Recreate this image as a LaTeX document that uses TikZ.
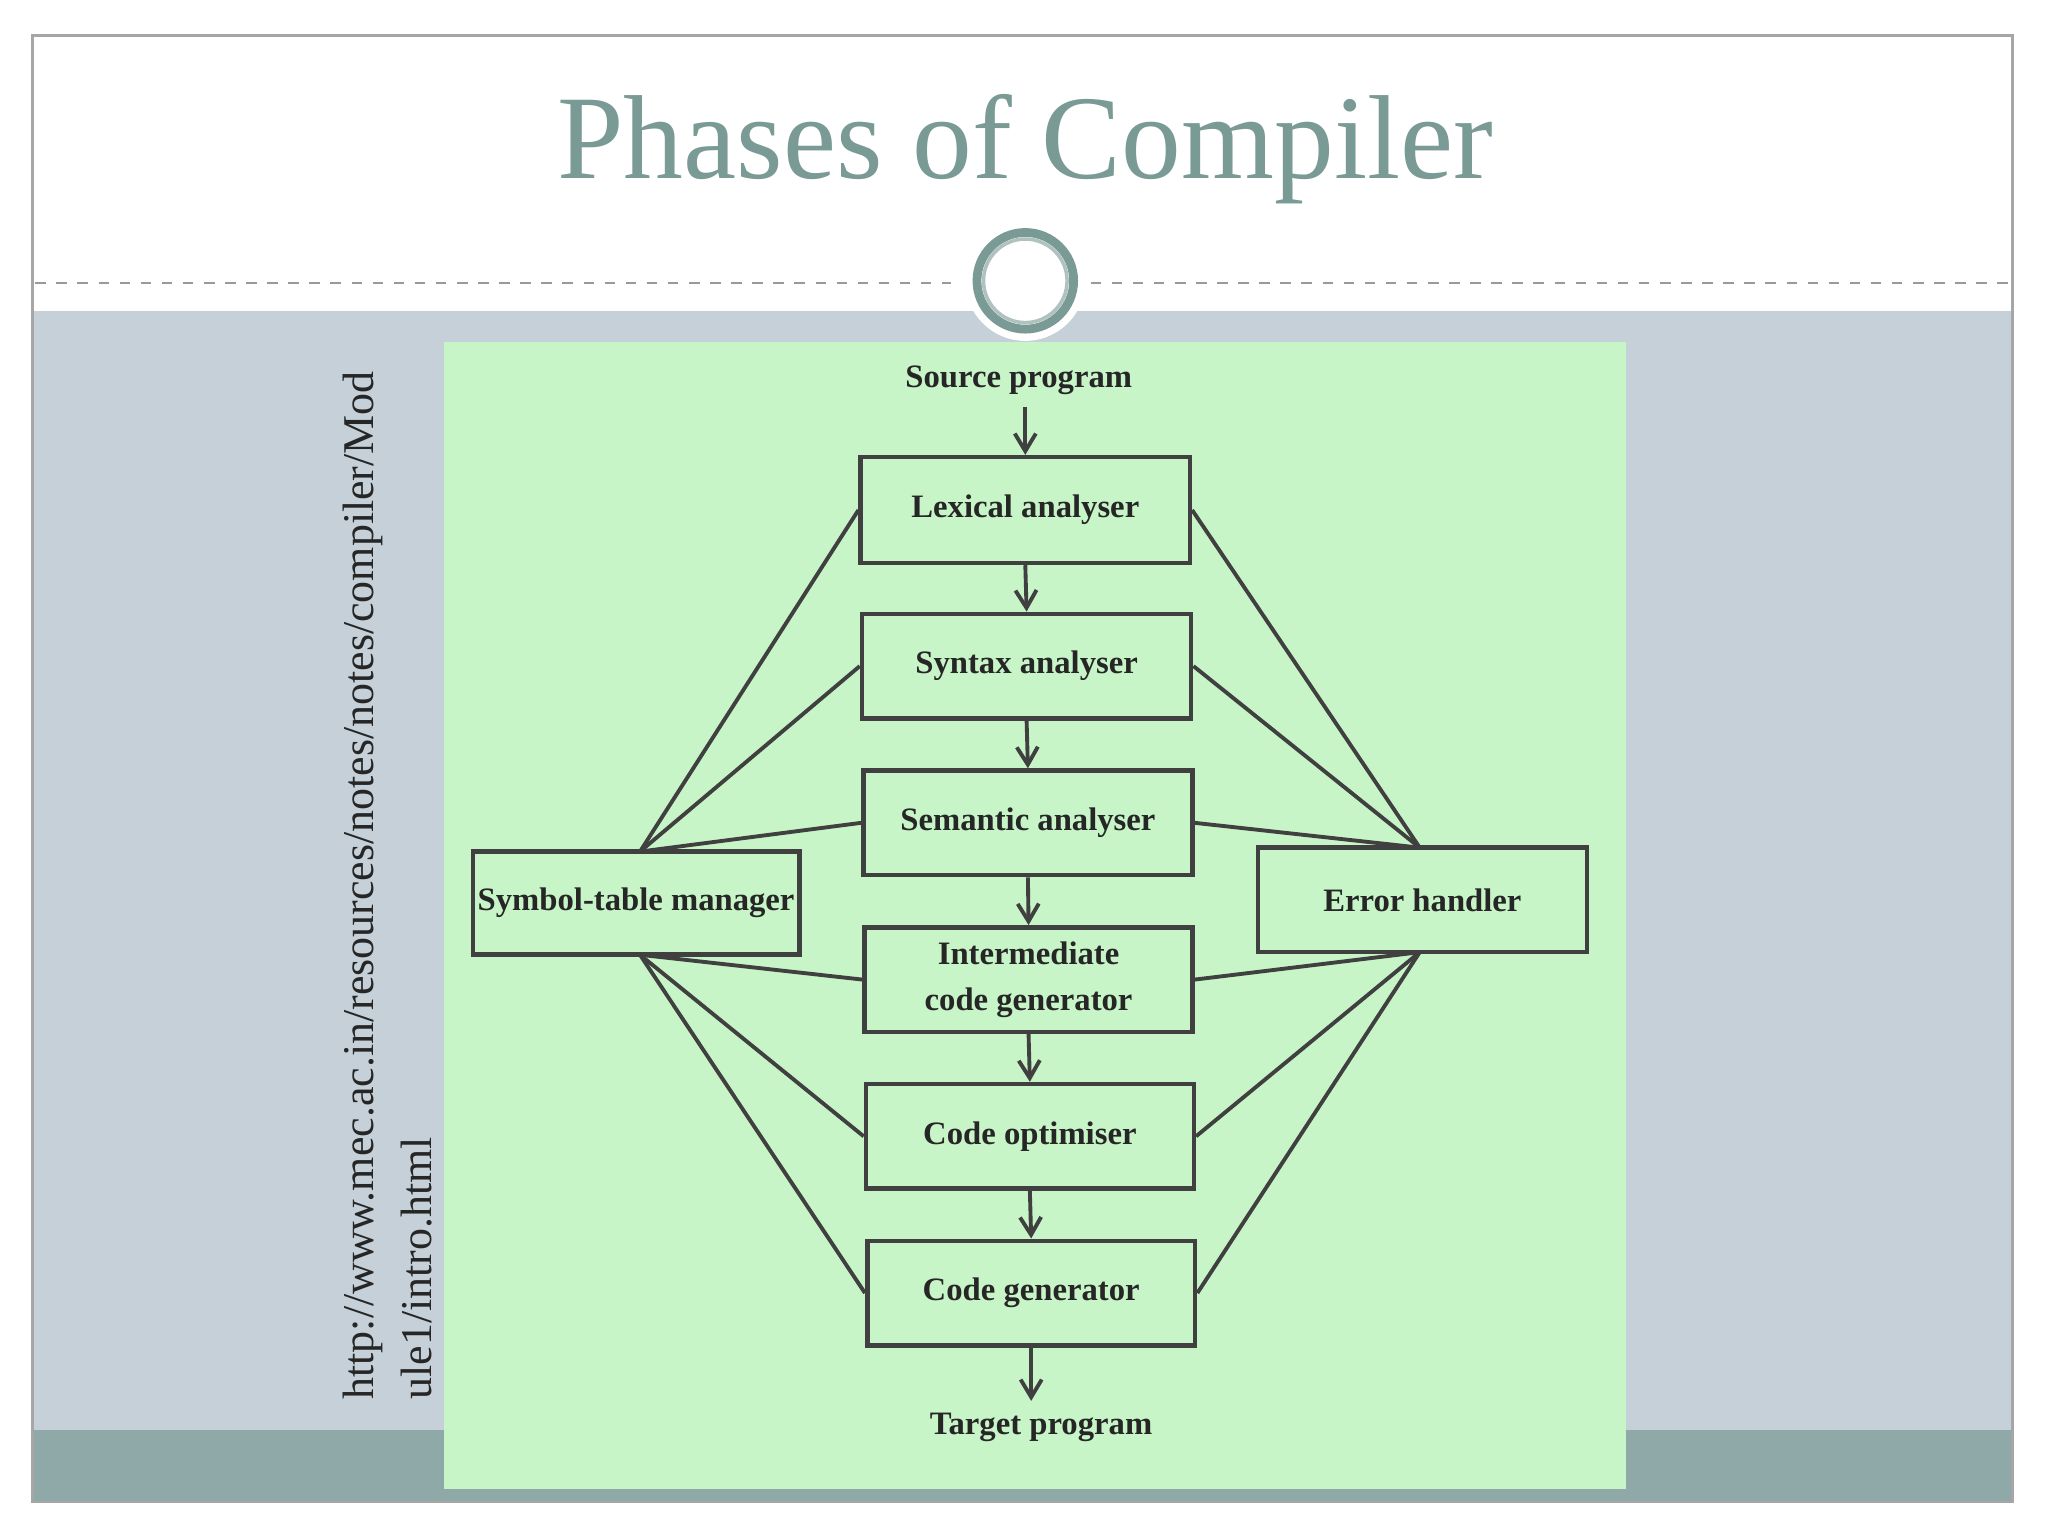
\documentclass[tikz,border=0pt]{standalone}
\usepackage{fontspec}
\setmainfont{Liberation Serif}
\usetikzlibrary{fit,arrows.meta}
\definecolor{titlec}{HTML}{7A9A95}
\definecolor{bandc}{HTML}{C5D0D8}
\definecolor{footc}{HTML}{8FA8A8}
\definecolor{greenc}{HTML}{C8F5C8}
\definecolor{linec}{HTML}{404040}
\tikzset{
 box/.style={draw=linec, line width=1.3pt, inner sep=0pt},
 lbl/.style={font=\bfseries\fontsize{9.3}{11}\selectfont, align=center, text=black!85},
 con/.style={draw=linec, line width=1.1pt},
 arr/.style={con, -{Straight Barb[length=5pt,width=6pt]}},
}
\begin{document}
\begin{tikzpicture}[x=0.013061cm,y=-0.013061cm]
\useasboundingbox (0,0) rectangle (1568,1176);
\fill[white] (0,0) rectangle (1568,1176);
\fill[bandc] (25,238) rectangle (1541,1095);
\fill[footc] (25,1095) rectangle (1541,1150);
\draw[gray!70, line width=0.8pt] (25,27) rectangle (1541,1150);
\draw[gray!80, dashed, line width=0.6pt] (27,217) -- (728,217);
\draw[gray!80, dashed, line width=0.6pt] (835,217) -- (1540,217);
\fill[white] (785,215) circle (46);
\draw[titlec, line width=2.5pt] (785,215) circle (37);
\draw[titlec!60, line width=1pt] (785,215) circle (32);
\node[text=titlec, font=\fontsize{34}{40}\selectfont] (title) at (785,114) {Phases of Compiler};
\fill[greenc] (340,262) rectangle (1245,1140);
\node[rotate=90, anchor=south west, inner sep=0pt, font=\fontsize{12.5}{15}\selectfont, text=black!85] (url1) at (294,1072) {http://www.mec.ac.in/resources/notes/notes/compiler/Mod};
\node[rotate=90, anchor=south west, inner sep=0pt, font=\fontsize{12.5}{15}\selectfont, text=black!85] (url2) at (331,1072) {ule1/intro.html};

\node[box, fit={(659,350) (911,431)}] (lex) {};
\node[box, fit={(660,470) (912,550)}] (syn) {};
\node[box, fit={(661,590) (913,670)}] (sem) {};
\node[box, fit={(662,710) (913,790)}] (icg) {};
\node[box, fit={(663,830) (914,910)}] (opt) {};
\node[box, fit={(664,950) (915,1030)}] (gen) {};
\node[box, fit={(362,652) (612,731)}] (sym) {};
\node[box, fit={(963,649) (1215,729)}] (err) {};
\node[lbl] at (lex.center) {Lexical analyser};
\node[lbl] at (syn.center) {Syntax analyser};
\node[lbl] at (sem.center) {Semantic analyser};
\node[lbl] at (icg.center) {Intermediate\\[2pt]code generator};
\node[lbl] at (opt.center) {Code optimiser};
\node[lbl] at (gen.center) {Code generator};
\node[lbl] at (sym.center) {Symbol-table manager};
\node[lbl] at (err.center) {Error handler};
\node[lbl] (src) at (780,291) {Source program};
\node[lbl] (tgt) at (797,1093) {Target program};

\coordinate (symT) at (490,652);
\coordinate (symB) at (490,731);
\coordinate (errT) at (1087,649);
\coordinate (errB) at (1087,729);

\draw[arr] (src.south -| lex.north) -- (lex.north);
\draw[arr] (lex.south) -- (syn.north);
\draw[arr] (syn.south) -- (sem.north);
\draw[arr] (sem.south) -- (icg.north);
\draw[arr] (icg.south) -- (opt.north);
\draw[arr] (opt.south) -- (gen.north);
\draw[arr] (gen.south) -- (tgt.north -| gen.south);

\foreach \n in {lex,syn,sem} {
 \draw[con] (symT) -- (\n.west);
 \draw[con] (errT) -- (\n.east);
}
\foreach \n in {icg,opt,gen} {
 \draw[con] (symB) -- (\n.west);
 \draw[con] (errB) -- (\n.east);
}
\end{tikzpicture}
\end{document}
